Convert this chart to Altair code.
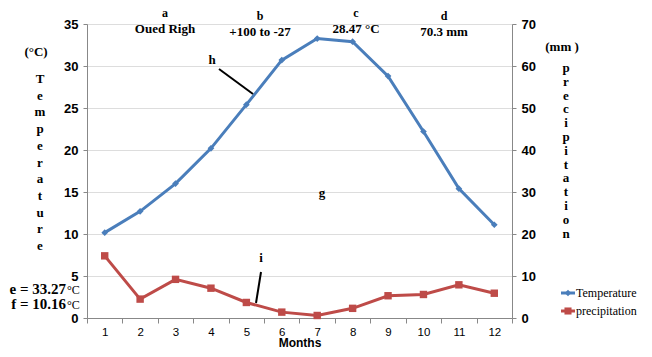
import altair as alt
import pandas as pd

months = list(range(1, 13))
temperature = [10.16, 12.7, 16.0, 20.2, 25.4, 30.7, 33.27, 32.9, 28.8, 22.2, 15.4, 11.1]
precipitation = [14.8, 4.5, 9.2, 7.1, 3.7, 1.4, 0.6, 2.3, 5.3, 5.6, 7.9, 5.9]

BLUE = "#4a7ebb"
RED = "#be4b48"
SERIF = "Liberation Serif"

df = pd.DataFrame({"Month": months, "Temperature": temperature, "Precipitation": precipitation})

xenc = alt.X(
    "Month:O",
    scale=alt.Scale(type="band", paddingInner=0, paddingOuter=0),
    bandPosition=0.5,
    axis=alt.Axis(
        title="Months", labelAngle=0, tickBand="extent", tickSize=5,
        labelFontSize=11.5, labelFontWeight="normal", labelPadding=3,
        titleFontSize=12, titleFontWeight="bold", titlePadding=0,
    ),
)

temp = alt.Chart(df).mark_line(
    color=BLUE, strokeWidth=3,
    point=alt.OverlayMarkDef(shape="diamond", size=45, color=BLUE, filled=True, opacity=1),
).encode(
    x=xenc,
    y=alt.Y("Temperature:Q", scale=alt.Scale(domain=[0, 35], nice=False),
            axis=alt.Axis(orient="left", values=[0, 5, 10, 15, 20, 25, 30, 35], title=None,
                          tickSize=4, labelPadding=5, labelFontWeight="bold", labelFontSize=13)),
)

prec = alt.Chart(df).mark_line(
    color=RED, strokeWidth=3,
    point=alt.OverlayMarkDef(shape="square", size=55, color=RED, filled=True, opacity=1),
).encode(
    x=xenc,
    y=alt.Y("Precipitation:Q", scale=alt.Scale(domain=[0, 70], nice=False),
            axis=alt.Axis(orient="right", values=[0, 10, 20, 30, 40, 50, 60, 70], title=None,
                          tickSize=4, labelPadding=5, labelFontWeight="bold", labelFontSize=13)),
)

ONE = pd.DataFrame({"_": [0]})


def label(txt, x, y, size=13, weight="bold", align="center", lh=None):
    kw = dict(text=txt, font=SERIF, fontSize=size, fontWeight=weight, align=align,
              baseline="middle", color="black")
    if lh is not None:
        kw["lineHeight"] = lh
    return alt.Chart(ONE).mark_text(**kw).encode(x=alt.value(x), y=alt.value(y))


def seg(x1, y1, x2, y2, color="black", w=2):
    return alt.Chart(ONE).mark_rule(color=color, strokeWidth=w).encode(
        x=alt.value(x1), y=alt.value(y1), x2=alt.value(x2), y2=alt.value(y2))


def sym(shape, x, y, color, size):
    return alt.Chart(ONE).mark_point(shape=shape, filled=True, color=color, size=size, opacity=1).encode(
        x=alt.value(x), y=alt.value(y))


layers = [
    temp, prec,
    label("a", 78, -11, size=12), label("Oued Righ", 78, 5),
    label("b", 173, -8, size=12), label("+100 to  -27", 173, 8),
    label("c", 269, -11, size=12), label("28.47 °C", 269, 5),
    label("d", 357, -8, size=12), label("70.3 mm", 357, 8),
    label("(°C)", -51, 28),
    label(list("Temperature"), -47, 55, lh=16.7),
    label("e = 33.27", -21, 265, size=15, align="right"),
    label("°C", -20, 266, size=12, weight="normal", align="left"),
    label("f = 10.16", -21, 280, size=15, align="right"),
    label("°C", -20, 281, size=12, weight="normal", align="left"),
    label("(mm )", 475, 23),
    label(list("precipitation"), 479, 44, lh=13.8),
    label("h", 125, 36), seg(132, 45, 166, 70),
    label("g", 235, 169),
    label("i", 174, 234), seg(174, 248, 169, 279),
    seg(474, 269, 488, 269, BLUE, 3), sym("diamond", 481, 269, BLUE, 40),
    label("Temperature", 489, 269, size=12, weight="normal", align="left"),
    seg(474, 287, 488, 287, RED, 3), sym("square", 481, 287, RED, 50),
    label("precipitation", 489, 287, size=12, weight="normal", align="left"),
]

chart = alt.layer(*layers).resolve_scale(y="independent").properties(
    width=425, height=294,
    autosize=alt.AutoSizeParams(type="none"),
    padding={"left": 79, "top": 16, "right": 130, "bottom": 31},
).configure_view(stroke=None).configure_axis(
    grid=False, domainColor="black", domainWidth=3, tickColor="black", tickWidth=2,
    labelFont=SERIF, titleFont=SERIF, labelColor="black", titleColor="black",
).configure(background="white")

chart.save("out.html", embed_options={"renderer": "svg", "actions": False})
